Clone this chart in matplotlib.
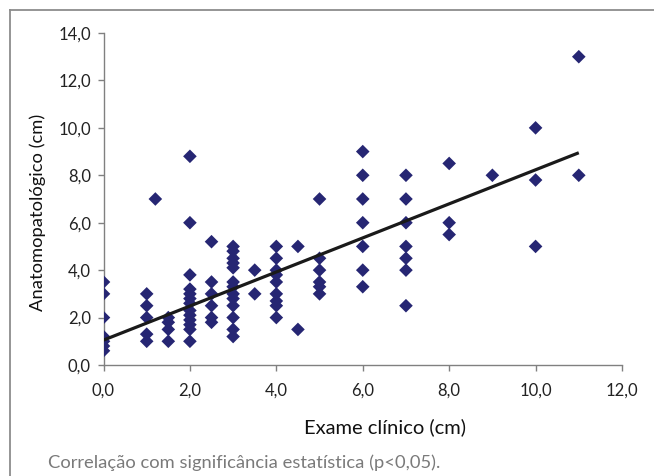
import numpy as np
import matplotlib
matplotlib.use("Agg")
import matplotlib.pyplot as plt
from matplotlib.lines import Line2D

# ---- data ----
exame_x = (
    [0.0] * 7 + [1.0] * 5 + [1.2] + [1.5] * 4 + [2.0] * 13 + [2.5] * 6 + [3.0] * 13
    + [3.5] * 2 + [4.0] * 9 + [4.5] * 2 + [5.0] * 6 + [6.0] * 7 + [7.0] * 7
    + [8.0] * 3 + [9.0] + [10.0] * 3 + [11.0] * 2
)
anato_y = (
    [3.5, 3.0, 2.0, 1.2, 1.0, 0.8, 0.6]
    + [3.0, 2.5, 2.0, 1.3, 1.0]
    + [7.0]
    + [2.0, 1.8, 1.5, 1.0]
    + [8.8, 6.0, 3.8, 3.2, 3.0, 2.8, 2.6, 2.3, 2.1, 1.9, 1.7, 1.5, 1.0]
    + [5.2, 3.5, 3.0, 2.5, 2.0, 1.8]
    + [5.0, 4.8, 4.5, 4.3, 4.1, 3.5, 3.3, 3.0, 2.8, 2.5, 2.0, 1.5, 1.2]
    + [4.0, 3.0]
    + [5.0, 4.5, 4.0, 3.8, 3.5, 3.0, 2.7, 2.5, 2.0]
    + [5.0, 1.5]
    + [7.0, 4.5, 4.0, 3.5, 3.3, 3.0]
    + [9.0, 8.0, 7.0, 6.0, 5.0, 4.0, 3.3]
    + [8.0, 7.0, 6.0, 5.0, 4.5, 4.0, 2.5]
    + [8.5, 6.0, 5.5]
    + [8.0]
    + [10.0, 7.8, 5.0]
    + [13.0, 8.0]
)
# linear trend line as drawn in the reference (endpoints)
trend_x = [0.0, 11.0]
trend_y = [1.05, 8.95]

x_ticks = [0, 2, 4, 6, 8, 10, 12]
x_tick_labels = ["0,0", "2,0", "4,0", "6,0", "8,0", "10,0", "12,0"]
y_ticks = [0, 2, 4, 6, 8, 10, 12, 14]
y_tick_labels = ["0,0", "2,0", "4,0", "6,0", "8,0", "10,0", "12,0", "14,0"]
x_label = "Exame clínico (cm)"
y_label = "Anatomopatológico (cm)"
caption = "Correlação com significância estatística (p<0,05)."

plt.rcParams['font.family'] = ['Lato', 'DejaVu Sans']

W, H = 654, 476
fig = plt.figure(figsize=(W / 100, H / 100), dpi=100)
fig.patch.set_facecolor("white")

ax = fig.add_axes([103.5 / W, 1 - 365 / H, (622 - 103.5) / W, (365 - 33) / H])
ax.scatter(exame_x, anato_y, marker="D", s=48, color="#262673", edgecolors="none", zorder=3)
ax.plot(trend_x, trend_y, color="#1a1a1a", lw=2.3, zorder=4, solid_capstyle="butt")

ax.set_xlim(0, 12)
ax.set_ylim(0, 14)
ax.set_xticks(x_ticks)
ax.set_xticklabels(x_tick_labels)
ax.set_yticks(y_ticks)
ax.set_yticklabels(y_tick_labels)
for s in ["top", "right"]:
    ax.spines[s].set_visible(False)
for s in ["left", "bottom"]:
    ax.spines[s].set_color("#808080")
    ax.spines[s].set_linewidth(1.0)
ax.tick_params(direction="out", length=4, width=1.0, color="#808080",
               labelsize=12, labelcolor="#222222")
ax.tick_params(axis="x", pad=9)
ax.tick_params(axis="y", pad=5)

fig.text(385 / W, 1 - 427 / H, x_label, ha="center", va="center", fontsize=14.5, color="#111111")
fig.text(38 / W, 1 - 212 / H, y_label, ha="center", va="center", rotation=90, fontsize=13.2, color="#111111")
fig.text(48 / W, 1 - 463 / H, caption, ha="left", va="center", fontsize=13.2, color="#7a7a7a")

# outer frame (left and top)
fx = 10 / W
fy = 1 - 9.5 / H
fig.add_artist(Line2D([fx, fx], [0, fy], transform=fig.transFigure, color="#8c8c8c", lw=1.3))
fig.add_artist(Line2D([fx, 1], [fy, fy], transform=fig.transFigure, color="#8c8c8c", lw=1.3))

fig.savefig("out.png", dpi=100, facecolor="white")
